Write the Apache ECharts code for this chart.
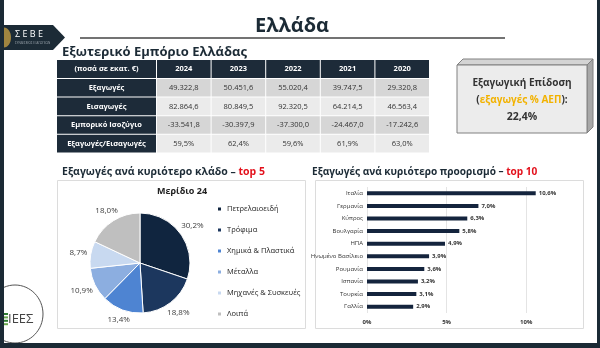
<!DOCTYPE html>
<html><head><meta charset="utf-8">
<script src="https://cdn.jsdelivr.net/npm/echarts@6/dist/echarts.min.js"></script>
<style>html,body{margin:0;padding:0;background:#fff}#c{width:600px;height:348px}</style>
</head><body><div id="c"></div>
<script>
const FONT = '"Open Sans", "Noto Sans", sans-serif';

// ---- data ----
const pageTitle = 'Ελλάδα';
const tableTitle = 'Εξωτερικό Εμπόριο Ελλάδας';
const tableCorner = '(ποσά σε εκατ. €)';
const years = ['2024', '2023', '2022', '2021', '2020'];
const rowLabels = ['Εξαγωγές', 'Εισαγωγές', 'Εμπορικό Ισοζύγιο', 'Εξαγωγές/Εισαγωγές'];
const exportsVal = [49322.8, 50451.6, 55020.4, 39747.5, 29320.8];
const importsVal = [82864.6, 80849.5, 92320.5, 64214.5, 46563.4];
const balanceVal = [-33541.8, -30397.9, -37300.0, -24467.0, -17242.6];
const ratioVal = [59.5, 62.4, 59.6, 61.9, 63.0];
const exportPerfValue = 22.4;

const pieTitle = 'Μερίδιο 24';
const sectors = ['Πετρελαιοειδή', 'Τρόφιμα', 'Χημικά & Πλαστικά', 'Μέταλλα', 'Μηχανές & Συσκευές', 'Λοιπά'];
const sectorShares = [30.2, 18.8, 13.4, 10.9, 8.7, 18.0];
const sectorColors = ['#10253f', '#1c375e', '#4e84d2', '#8caee0', '#c8d9f0', '#bfbfbf'];

const countries = ['Ιταλία', 'Γερμανία', 'Κύπρος', 'Βουλγαρία', 'ΗΠΑ', 'Ηνωμένο Βασίλειο', 'Ρουμανία', 'Ισπανία', 'Τουρκία', 'Γαλλία'];
const countryShares = [10.6, 7.0, 6.3, 5.8, 4.9, 3.9, 3.6, 3.2, 3.1, 2.9];

// ---- helpers ----
function fmtNum(v) {
  const s = Math.abs(v).toFixed(1).split('.');
  const i = s[0].replace(/\B(?=(\d{3})+(?!\d))/g, '.');
  return (v < 0 ? '-' : '') + i + ',' + s[1];
}
function fmtPct(v) { return v.toFixed(1).replace('.', ',') + '%'; }

const DARK = '#1d2b39';
const graphics = [];

// outer frame
graphics.push({ type: 'rect', shape: { x: 0, y: 0, width: 4, height: 348 }, style: { fill: '#1b2a35' }, z: 100 });
graphics.push({ type: 'rect', shape: { x: 597, y: 0, width: 3, height: 348 }, style: { fill: '#1b2a35' }, z: 100 });
graphics.push({ type: 'rect', shape: { x: 0, y: 343, width: 600, height: 5 }, style: { fill: '#1b2a35' }, z: 100 });

// SEBE logo
graphics.push({ type: 'polygon', shape: { points: [[0, 25], [53, 25], [65, 37.5], [53, 50], [0, 50]] }, style: { fill: '#1c2b36' }, z: 50 });
graphics.push({ type: 'ellipse', shape: { cx: 4, cy: 37.5, rx: 7, ry: 10 }, style: { fill: '#a08540' }, z: 51 });
graphics.push({ type: 'text', x: 15, y: 34, style: { text: 'Σ Ε Β Ε', fill: '#ffffff', font: '9px ' + FONT, textAlign: 'left', textVerticalAlign: 'middle' }, z: 51 });
graphics.push({ type: 'text', x: 15, y: 43, style: { text: 'ΣΥΝΔΕΣΜΟΣ ΕΞΑΓΩΓΕΩΝ', fill: '#9aa4ac', font: '3px ' + FONT, textAlign: 'left', textVerticalAlign: 'middle' }, z: 51 });

// IEES logo
graphics.push({ type: 'ellipse', shape: { cx: 15, cy: 314, rx: 28, ry: 29 }, style: { fill: '#ffffff', stroke: '#555', lineWidth: 1 }, z: 40 });
[0, 1, 2, 3].forEach(function (k) {
  graphics.push({ type: 'rect', shape: { x: 0, y: 313 + k * 3.4, width: 8, height: 2 }, style: { fill: k % 2 ? '#6aa84f' : '#2e7d32' }, z: 41 });
});
graphics.push({ type: 'text', x: 8, y: 319, style: { text: 'ΙΕΕΣ', fill: '#444', font: '13px ' + FONT, textAlign: 'left', textVerticalAlign: 'middle' }, z: 41 });

// page title
graphics.push({ type: 'text', x: 292, y: 26, style: { text: pageTitle, fill: '#1c2b36', font: 'bold 20px ' + FONT, textAlign: 'center', textVerticalAlign: 'middle' } });
graphics.push({ type: 'line', shape: { x1: 80, y1: 38, x2: 505, y2: 38 }, style: { stroke: '#444', lineWidth: 1.5 } });
graphics.push({ type: 'text', x: 62, y: 52, style: { text: tableTitle, fill: '#1c2b36', font: 'bold 13px ' + FONT, textAlign: 'left', textVerticalAlign: 'middle' } });

// table
const tLeft = 57, col0W = 99, colW = 54.6, hTop = 60, hH = 18, rH = 17.6, gap = 1;
const tableRows = [exportsVal.map(fmtNum), importsVal.map(fmtNum), balanceVal.map(fmtNum), ratioVal.map(fmtPct)];
function cell(x, y, w, h, fill, text, color, bold) {
  graphics.push({ type: 'rect', shape: { x: x, y: y, width: w, height: h }, style: { fill: fill } });
  graphics.push({ type: 'text', x: x + w / 2, y: y + h / 2, style: { text: text, fill: color, font: (bold ? 'bold ' : '') + '7.5px ' + FONT, textAlign: 'center', textVerticalAlign: 'middle' } });
}
cell(tLeft, hTop, col0W, hH, DARK, tableCorner, '#fff', true);
years.forEach(function (y, j) { cell(tLeft + col0W + gap + j * colW, hTop, colW - gap, hH, DARK, y, '#fff', true); });
rowLabels.forEach(function (lab, i) {
  const y = hTop + hH + gap + i * (rH + gap);
  cell(tLeft, y, col0W, rH, DARK, lab, '#fff', true);
  tableRows[i].forEach(function (t, j) {
    cell(tLeft + col0W + gap + j * colW, y, colW - gap, rH, i % 2 ? '#ebebeb' : '#d6d6d6', t, '#333', false);
  });
});

// export performance box
graphics.push({ type: 'polygon', shape: { points: [[457, 65], [463, 59], [593, 59], [587, 65]] }, style: { fill: '#d4d4d4', stroke: '#808080', lineWidth: 1 } });
graphics.push({ type: 'polygon', shape: { points: [[587, 65], [593, 59], [593, 127], [587, 133]] }, style: { fill: '#a8a8a8', stroke: '#808080', lineWidth: 1 } });
graphics.push({ type: 'rect', shape: { x: 457, y: 65, width: 130, height: 68 }, style: { fill: '#ececec', stroke: '#808080', lineWidth: 1 } });
graphics.push({ type: 'text', x: 522, y: 83, style: { text: 'Εξαγωγική Επίδοση', fill: '#333', font: 'bold 10px ' + FONT, textAlign: 'center', textVerticalAlign: 'middle' } });
graphics.push({ type: 'text', x: 522, y: 100, style: {
  text: '{d|(}{o|εξαγωγές % ΑΕΠ}{d|):}', textAlign: 'center', textVerticalAlign: 'middle',
  rich: { d: { fill: '#333', font: 'bold 10px ' + FONT }, o: { fill: '#f2b200', font: 'bold 10px ' + FONT } } } });
graphics.push({ type: 'text', x: 522, y: 117, style: { text: fmtPct(exportPerfValue), fill: '#333', font: 'bold 10.5px ' + FONT, textAlign: 'center', textVerticalAlign: 'middle' } });

// section titles
const rich2 = { a: { fill: '#1c2b36', font: 'bold 10.5px ' + FONT }, r: { fill: '#e3101b', font: 'bold 10.5px ' + FONT } };
const rich3 = { a: { fill: '#1c2b36', font: 'bold 10.1px ' + FONT }, r: { fill: '#e3101b', font: 'bold 10.1px ' + FONT } };
graphics.push({ type: 'text', x: 62, y: 172, style: { text: '{a|Εξαγωγές ανά κυριότερο κλάδο – }{r|top 5}', rich: rich2, textAlign: 'left', textVerticalAlign: 'middle' } });
graphics.push({ type: 'text', x: 312, y: 172, style: { text: '{a|Εξαγωγές ανά κυριότερο προορισμό – }{r|top 10}', rich: rich3, textAlign: 'left', textVerticalAlign: 'middle' } });

// chart boxes
graphics.push({ type: 'rect', z: -1, shape: { x: 57.5, y: 180.5, width: 248, height: 148 }, style: { fill: '#fff', stroke: '#dcdcdc', lineWidth: 1 } });
graphics.push({ type: 'rect', z: -1, shape: { x: 315.5, y: 180.5, width: 268, height: 148 }, style: { fill: '#fff', stroke: '#dcdcdc', lineWidth: 1 } });
graphics.push({ type: 'text', x: 182, y: 191, style: { text: pieTitle, fill: '#222', font: 'bold 9px ' + FONT, textAlign: 'center', textVerticalAlign: 'middle' } });

// ---- chart ----
const PCX = 140, PCY = 263, PR = 50;
const shareTotal = sectorShares.reduce(function (a, b) { return a + b; }, 0);

const chart = echarts.init(document.getElementById('c'), null, { renderer: 'canvas' });
chart.setOption({
  animation: false,
  backgroundColor: '#ffffff',
  textStyle: { fontFamily: FONT },
  graphic: { elements: graphics },
  legend: {
    orient: 'vertical', left: 211, top: 199, itemWidth: 5, itemHeight: 5, icon: 'rect', itemGap: 11,
    data: sectors,
    textStyle: { fontSize: 7.5, color: '#222', fontWeight: 'normal', lineHeight: 10, fontFamily: FONT }
  },
  grid: { left: 367, right: 42, top: 187, bottom: 35, containLabel: false, outerBoundsMode: 'none' },
  xAxis: {
    type: 'value', min: 0, max: 12, interval: 5,
    axisLine: { show: false }, axisTick: { show: false },
    splitLine: { show: true, showMaxLine: false, lineStyle: { color: '#e4e4e4', width: 1 } },
    axisLabel: { fontSize: 6, fontWeight: 'bold', color: '#333', margin: 6, showMaxLabel: false,
      formatter: function (v) { return v % 5 === 0 ? v + '%' : ''; } }
  },
  yAxis: {
    type: 'category', inverse: true, data: countries,
    axisLine: { show: false }, axisTick: { show: false },
    axisLabel: { fontSize: 6, color: '#333', margin: 4 }
  },
  series: [
    {
      type: 'pie', center: [PCX, PCY], radius: PR, startAngle: 90, clockwise: true,
      avoidLabelOverlap: false,
      itemStyle: { borderColor: '#fff', borderWidth: 1 },
      data: sectors.map(function (n, i) { return { name: n, value: sectorShares[i], itemStyle: { color: sectorColors[i] } }; }),
      label: { show: true, position: 'outside', fontSize: 8, color: '#404040',
        formatter: function (p) { return fmtPct(p.value); } },
      labelLine: { show: false, length: 4, length2: 0 },
      labelLayout: function (p) {
        let cum = 0;
        for (let i = 0; i < p.dataIndex; i++) cum += sectorShares[i];
        const mid = (cum + sectorShares[p.dataIndex] / 2) / shareTotal * 2 * Math.PI;
        const dx = Math.sin(mid), dy = -Math.cos(mid);
        const w = p.labelRect.width, h = p.labelRect.height;
        const d = 3 + Math.abs(dx) * w / 2 + Math.abs(dy) * h / 2;
        return { x: PCX + (PR + d) * dx, y: PCY + (PR + d) * dy, align: 'center', verticalAlign: 'middle' };
      }
    },
    {
      type: 'bar', data: countryShares, barWidth: 4,
      itemStyle: { color: '#14243d' },
      label: { show: true, position: 'right', distance: 3, fontSize: 6, fontWeight: 'bold', color: '#333',
        formatter: function (p) { return fmtPct(p.value); } }
    }
  ]
});
</script>
</body></html>
